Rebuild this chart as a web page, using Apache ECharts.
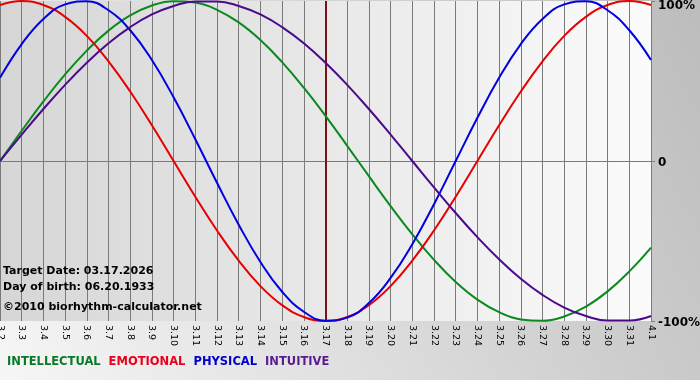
<!DOCTYPE html>
<html><head><meta charset="utf-8">
<script src="https://cdn.jsdelivr.net/npm/echarts@6/dist/echarts.min.js"></script>
<style>html,body{margin:0;padding:0;}#c{width:700px;height:380px;}</style>
</head><body><div id="c"></div>
<script>
var days = ['3.2','3.3','3.4','3.5','3.6','3.7','3.8','3.9','3.10','3.11','3.12','3.13','3.14','3.15','3.16','3.17','3.18','3.19','3.20','3.21','3.22','3.23','3.24','3.25','3.26','3.27','3.28','3.29','3.30','3.31','4.1'];
var intellectual = [0,18.9,37.2,54.1,69.0,81.5,91.0,97.2,99.9,99.0,94.5,86.6,75.6,61.8,45.8,28.2,9.5,-9.5,-28.2,-45.8,-61.8,-75.6,-86.6,-94.5,-99.0,-99.9,-97.2,-91.0,-81.5,-69.0,-54.1];
var emotional = [97.5,100,97.5,90.1,78.2,62.3,43.4,22.3,0,-22.3,-43.4,-62.3,-78.2,-90.1,-97.5,-100,-97.5,-90.1,-78.2,-62.3,-43.4,-22.3,0,22.3,43.4,62.3,78.2,90.1,97.5,100,97.5];
var physical = [52.0,73.1,88.8,97.9,99.8,94.2,81.7,63.1,39.8,13.6,-13.6,-39.8,-63.1,-81.7,-94.2,-99.8,-97.9,-88.8,-73.1,-52.0,-27.0,0,27.0,52.0,73.1,88.8,97.9,99.8,94.2,81.7,63.1];
var intuitive = [0,16.5,32.5,47.6,61.4,73.6,83.7,91.6,96.9,99.7,99.7,96.9,91.6,83.7,73.6,61.4,47.6,32.5,16.5,0,-16.5,-32.5,-47.6,-61.4,-73.6,-83.7,-91.6,-96.9,-99.7,-99.7,-96.9];
var yTicks = [-100, 0, 100];
var targetDay = '3.17';
var infoLines = ['Target Date: 03.17.2026', 'Day of birth: 06.20.1933', '©2010 biorhythm-calculator.net'];
var seriesNames = ['INTELLECTUAL','EMOTIONAL','PHYSICAL','INTUITIVE'];
var colors = ['#0a8a1e','#e60000','#0000e0','#4b0a8c'];
var legendColors = ['#0a7a28','#e8001c','#0000cc','#5a1a90'];

var FONT = 'DejaVu Sans';
var chart = echarts.init(document.getElementById('c'), null, {renderer:'canvas'});
var seriesData = [intellectual, emotional, physical, intuitive];
var series = seriesData.map(function(d, i){
  return {
    name: seriesNames[i], type:'line', data:d, smooth:0.45, symbol:'none',
    lineStyle:{color:colors[i], width:2}, itemStyle:{color:colors[i]}, z:3+i
  };
});
series[0].markLine = {
  silent:true, symbol:['none','none'], label:{show:false},
  lineStyle:{color:'#7a1414', width:2, type:'solid'},
  data:[{xAxis: targetDay}], z:2
};
var rich = {};
seriesNames.forEach(function(n,i){ rich['s'+i] = {fill:legendColors[i], fontFamily:FONT, fontWeight:'bold', fontSize:11.5}; });
var legendText = seriesNames.map(function(n,i){ return '{s'+i+'|'+n+'}'; }).join('  ');

chart.setOption({
  animation:false,
  backgroundColor:{type:'linear', x:0, y:1, x2:1, y2:0, colorStops:[{offset:0,color:'#f6f6f6'},{offset:1,color:'#bcbcbc'}]},
  grid:{left:0, top:1, width:651, height:320, show:true, borderWidth:0, containLabel:false, outerBoundsMode:'none',
    backgroundColor:{type:'linear', x:0, y:0, x2:1, y2:0, colorStops:[{offset:0,color:'#d6d6d6'},{offset:1,color:'#fbfbfb'}]}},
  xAxis:{type:'category', data:days, boundaryGap:false,
    axisLine:{show:false},
    axisTick:{show:true, length:3, lineStyle:{color:'#808080'}, interval:0},
    splitLine:{show:true, interval:0, lineStyle:{color:'#7a7a7a', width:1}},
    axisLabel:{interval:0, rotate:-90, fontFamily:FONT, fontSize:9.5, color:'#000', margin:4, hideOverlap:false}
  },
  yAxis:{type:'value', position:'right', min:yTicks[0], max:yTicks[2], interval:100,
    axisLine:{show:false},
    axisTick:{show:true, length:4, lineStyle:{color:'#808080'}},
    splitLine:{show:true, lineStyle:{color:['rgba(0,0,0,0)','#7a7a7a','rgba(0,0,0,0)'], width:1}},
    axisLabel:{margin:7, color:'#000', fontFamily:FONT, fontWeight:'bold', fontSize:12,
      formatter:function(v){ if(v===100) return '{t|100%}'; if(v===0) return '{m|0}'; return '{m|'+v+'%}'; },
      rich:{t:{fontFamily:FONT, fontWeight:'bold', fontSize:12, color:'#000', padding:[10,0,0,0]},
            m:{fontFamily:FONT, fontWeight:'bold', fontSize:12, color:'#000', padding:[4,0,0,0]}}
    }
  },
  series:series,
  graphic:[
    {type:'text', left:3, top:266, style:{text:infoLines[0], font:'bold 11px "DejaVu Sans"', fill:'#000'}, z:10},
    {type:'text', left:3, top:282, style:{text:infoLines[1], font:'bold 11px "DejaVu Sans"', fill:'#000'}, z:10},
    {type:'text', left:3, top:302, style:{text:infoLines[2], font:'bold 11px "DejaVu Sans"', fill:'#000'}, z:10},
    {type:'text', left:7, top:356, style:{text:legendText, rich:rich, font:'bold 11.5px "DejaVu Sans"'}, z:10}
  ]
});
</script></body></html>
